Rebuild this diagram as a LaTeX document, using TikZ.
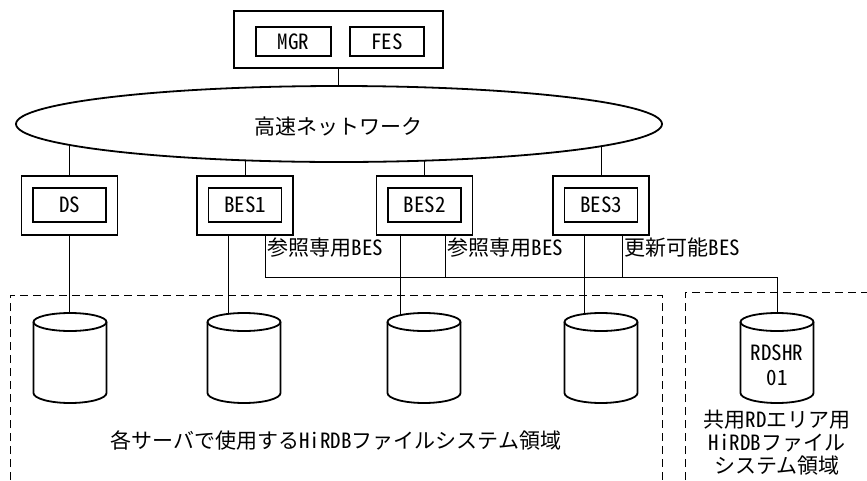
\documentclass[tikz,border=0pt]{standalone}
\usepackage{fontspec}
\setmainfont{Noto Sans CJK JP}
\newfontfamily\hw{Noto Sans CJK JP}[RawFeature=+hwid]
\usetikzlibrary{shapes.geometric,backgrounds}
\newcommand\drawdisk[2]{%
  \node[minimum width=73pt, minimum height=90pt] (#1) at (#2,358) {};
  \filldraw[fill=white] (#2-36.5,322) -- (#2-36.5,393)
     arc[start angle=180,end angle=0,x radius=36.5,y radius=10]
     -- (#2+36.5,322)
     arc[start angle=0,end angle=-180,x radius=36.5,y radius=9] -- cycle;
  \draw (#2-36.5,322) arc[start angle=180,end angle=0,x radius=36.5,y radius=9];
}
\begin{document}
\begin{tikzpicture}[x=1pt,y=-1pt, line width=1.8pt,
  every node/.style={font=\fontsize{21}{23}\selectfont, inner sep=0pt},
  box/.style={draw, fill=white, rectangle},
  srv/.style={box, minimum width=96pt, minimum height=59pt},
  inbox/.style={box, minimum width=73pt, minimum height=34pt},
  area/.style={dash pattern=on 8pt off 5pt},
  lbl/.style={anchor=west}]
\useasboundingbox (0,0) rectangle (867,480);

% top server
\node[box, minimum width=209pt, minimum height=57pt] (top) at (338.5,39.5) {};
\node[inbox, minimum width=75pt, minimum height=29pt] (mgr) at (293.5,41.5) {\hw MGR};
\node[inbox, minimum width=74pt, minimum height=29pt] (fes) at (387,41.5) {\hw FES};

% network
\node[ellipse, draw, fill=white, minimum width=646pt, minimum height=76pt] (net) at (339,124) {};
\node (nettxt) at (338,127) {高速ネットワーク};

% servers
\node[srv] (ds) at (69.5,205.5) {};
\node[inbox] (dsi) at (69.5,205) {\hw DS};
\node[srv] (bes1) at (245,205.5) {};
\node[inbox] (bes1i) at (245,205) {\hw BES1};
\node[srv] (bes2) at (424.5,205.5) {};
\node[inbox] (bes2i) at (424.5,205) {\hw BES2};
\node[srv] (bes3) at (601,205.5) {};
\node[inbox] (bes3i) at (601,205) {\hw BES3};

% disks
\drawdisk{cyl1}{70}
\drawdisk{cyl2}{244}
\drawdisk{cyl3}{424}
\drawdisk{cyl4}{601}
\drawdisk{rd}{777}
\node[align=center, font=\fontsize{21}{25}\selectfont] (rdtxt) at (777,365) {\hw RDSHR\\\hw 01};

\coordinate (busend) at (777,277);

\begin{scope}[on background layer]
  \draw (top.south) -- (top.south |- net.center);
  \draw (ds.north) -- (ds.north |- net.center);
  \draw (bes1.north) -- (bes1.north |- net.center);
  \draw (bes2.north) -- (bes2.north |- net.center);
  \draw (bes3.north) -- (bes3.north |- net.center);
  \draw (ds.south) -- (ds.south |- cyl1.center);
  \draw ([xshift=-17pt]bes1.south) -- ([xshift=-17pt]bes1.south |- cyl2.center);
  \draw ([xshift=-24.5pt]bes2.south) -- ([xshift=-24.5pt]bes2.south |- cyl3.center);
  \draw ([xshift=-17pt]bes3.south) -- ([xshift=-17pt]bes3.south |- cyl4.center);
  \draw ([xshift=20pt]bes1.south) |- (busend) -- (rd.center);
  \draw ([xshift=20.5pt]bes2.south) -- ([xshift=20.5pt]bes2.south |- busend);
  \draw ([xshift=21pt]bes3.south) -- ([xshift=21pt]bes3.south |- busend);
  \draw[area] (10,480) -- (10,295) -- (662,295) -- (662,480);
  \draw[area] (685,480) -- (685,292) -- (867,292);
\end{scope}

% labels
\node[lbl] (l1) at (267,248) {参照専用{\hw BES}};
\node[lbl] (l2) at (447,248) {参照専用{\hw BES}};
\node[lbl] (l3) at (624,248) {更新可能{\hw BES}};

\node (a1) at (336,440) {各サーバで使用する{\hw HiRDB}ファイルシステム領域};
\node[align=center] (a2) at (777,443) {共用{\hw RD}エリア用\\{\hw HiRDB}ファイル\\システム領域};
\end{tikzpicture}
\end{document}
